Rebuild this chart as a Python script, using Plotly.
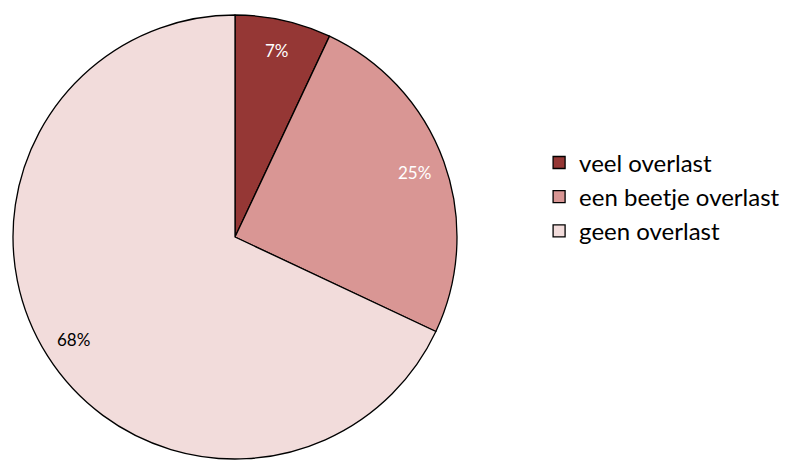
import math
import plotly.graph_objects as go

labels = ["veel overlast", "een beetje overlast", "geen overlast"]
values = [7, 25, 68]
colors = ["#953735", "#D99694", "#F2DCDB"]
text_colors = ["white", "white", "black"]

W, H = 787, 460
cx_px, cy_px, R = 235, 237, 222

fig = go.Figure(go.Pie(
    labels=labels, values=values, sort=False, direction="clockwise", rotation=0,
    marker=dict(colors=colors, line=dict(color="black", width=1.3)),
    textinfo="none", hoverinfo="label+percent",
    domain=dict(x=[(cx_px - R) / W, (cx_px + R) / W], y=[1 - (cy_px + R) / H, 1 - (cy_px - R) / H]),
))

total = sum(values)
cum = 0
for v, tc in zip(values, text_colors):
    mid = (cum + v / 2) / total * 2 * math.pi
    cum += v
    r = 0.86 * R
    x = (cx_px + r * math.sin(mid)) / W
    y = 1 - (cy_px - r * math.cos(mid)) / H
    fig.add_annotation(x=x, y=y, xref="paper", yref="paper", showarrow=False,
                       xanchor="center", yanchor="middle",
                       text=f"{round(v / total * 100)}%", font=dict(size=17, color=tc))

fig.update_layout(
    width=W, height=H, margin=dict(l=0, r=0, t=0, b=0),
    paper_bgcolor="white", plot_bgcolor="white",
    font=dict(family="Lato, Open Sans, sans-serif", color="black"),
    legend=dict(x=0.685, y=0.572, xanchor="left", yanchor="middle",
                font=dict(size=24), itemwidth=30),
)
fig.write_html("out.html", config={"displayModeBar": False},
               post_script="document.body.style.margin='0';")
